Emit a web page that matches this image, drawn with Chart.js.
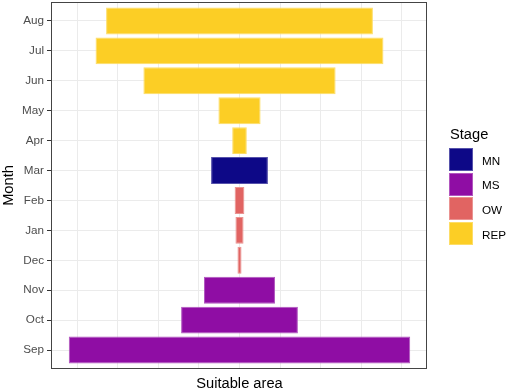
<!DOCTYPE html>
<html>
<head>
<meta charset="utf-8">
<script src="https://cdn.jsdelivr.net/npm/chart.js@4.4.1/dist/chart.umd.min.js"></script>
<style>
  html, body { margin: 0; padding: 0; background: #ffffff; }
  #wrap { position: relative; width: 510px; height: 391px; overflow: hidden; }
  #c { position: absolute; left: 0; top: 0; }
  .lg-title { position: absolute; left: 450px; top: 126px; font-family: "Liberation Sans", Arial, sans-serif; font-size: 14.67px; line-height: 17px; color: #000; white-space: nowrap; }
  .lg-items { position: absolute; left: 449px; top: 148px; font-family: "Liberation Sans", Arial, sans-serif; }
  .lg-row { display: flex; align-items: center; height: 23px; margin-bottom: 1.7px; }
  .lg-box { width: 24px; height: 23px; box-sizing: border-box; border-width: 1px; border-style: solid; }
  .lg-text { margin-left: 9px; font-size: 11.7px; color: #000; line-height: 14px; padding-top: 2px; }
</style>
</head>
<body>
<div id="wrap">
  <canvas id="c" width="510" height="391"></canvas>
  <div class="lg-title" id="lgTitle"></div>
  <div class="lg-items" id="lgItems"></div>
</div>
<script>
// ---- data ----
const months = ['Sep', 'Oct', 'Nov', 'Dec', 'Jan', 'Feb', 'Mar', 'Apr', 'May', 'Jun', 'Jul', 'Aug'];
const monthStage = ['MS', 'MS', 'MS', 'OW', 'OW', 'OW', 'MN', 'REP', 'REP', 'REP', 'REP', 'REP'];
const suitableArea = [8.42, 2.88, 1.75, 0.10, 0.20, 0.24, 1.40, 0.36, 1.04, 4.74, 7.10, 6.58];
const stages = ['MN', 'MS', 'OW', 'REP'];
const stageColors = ['#0D0887', '#8F0DA4', '#E16462', '#FCCE25'];
const xGridValues = [-4, -3, -2, -1, 0, 1, 2, 3, 4];
const legendTitle = 'Stage';
const xTitle = 'Suitable area';
const yTitle = 'Month';

// ---- helpers ----
function lighten(hex, t) {
  const n = parseInt(hex.slice(1), 16);
  const r = (n >> 16) & 255, g = (n >> 8) & 255, b = n & 255;
  const m = c => Math.round(c + (255 - c) * t);
  return 'rgb(' + m(r) + ',' + m(g) + ',' + m(b) + ')';
}

const datasets = stages.map((st, si) => ({
  label: st,
  data: months.map((m, i) => monthStage[i] === st
      ? { y: i, x: [-suitableArea[i] / 2, suitableArea[i] / 2] } : null)
    .filter(d => d !== null),
  backgroundColor: stageColors[si],
  borderColor: lighten(stageColors[si], 0.3),
  borderWidth: 1,
  borderSkipped: false,
  grouped: false,
  barPercentage: 0.9,
  categoryPercentage: 1.0
}));

const framePlugin = {
  id: 'panelFrame',
  afterDatasetsDraw(chart) {
    const a = chart.chartArea, ctx = chart.ctx;
    ctx.save();
    ctx.strokeStyle = '#444444';
    ctx.lineWidth = 1;
    ctx.strokeRect(Math.floor(a.left) - 0.5, Math.floor(a.top) - 0.5,
                   Math.round(a.right - a.left), Math.round(a.bottom - a.top) + 1);
    ctx.restore();
  }
};

const FONT = '"Liberation Sans", Arial, sans-serif';

new Chart(document.getElementById('c'), {
  type: 'bar',
  data: { datasets },
  options: {
    indexAxis: 'y',
    responsive: false,
    devicePixelRatio: 1,
    animation: false,
    layout: { padding: { top: 3, right: 83, bottom: 0, left: 0 } },
    plugins: { legend: { display: false }, tooltip: { enabled: false } },
    scales: {
      x: {
        type: 'linear',
        min: -4.624,
        max: 4.624,
        offset: false,
        afterBuildTicks: s => { s.ticks = xGridValues.map(v => ({ value: v })); },
        afterFit: s => { s.height = 23; s.paddingLeft = 0; s.paddingRight = 0; },
        ticks: { display: false },
        grid: { color: '#ebebeb', lineWidth: 1, drawTicks: false, offset: false },
        border: { display: false },
        title: {
          display: true, text: xTitle, color: '#000000',
          font: { family: FONT, size: 14.67, lineHeight: 1 },
          padding: { top: 8, bottom: 0 }
        }
      },
      y: {
        type: 'linear',
        min: -0.6,
        max: 11.6,
        offset: false,
        afterBuildTicks: s => { s.ticks = months.map((m, i) => ({ value: i })); },
        afterFit: s => { s.width = 52; s.paddingTop = 0; s.paddingBottom = 0; },
        ticks: {
          callback: v => months[v],
          color: '#4d4d4d',
          font: { family: FONT, size: 11.7 },
          padding: 3
        },
        grid: { color: '#ebebeb', lineWidth: 1, offset: false, drawTicks: true, tickLength: 5, tickColor: '#333333', tickWidth: 1 },
        border: { display: false },
        title: {
          display: true, text: yTitle, color: '#000000',
          font: { family: FONT, size: 14.67, lineHeight: 1 },
          padding: { top: 1.5, bottom: 0 }
        }
      }
    }
  },
  plugins: [framePlugin]
});

// ---- legend (HTML) ----
document.getElementById('lgTitle').textContent = legendTitle;
const items = document.getElementById('lgItems');
stages.forEach((st, si) => {
  const row = document.createElement('div');
  row.className = 'lg-row';
  const box = document.createElement('div');
  box.className = 'lg-box';
  box.style.background = stageColors[si];
  box.style.borderColor = lighten(stageColors[si], 0.3);
  const txt = document.createElement('div');
  txt.className = 'lg-text';
  txt.textContent = st;
  row.appendChild(box);
  row.appendChild(txt);
  items.appendChild(row);
});
</script>
</body>
</html>
